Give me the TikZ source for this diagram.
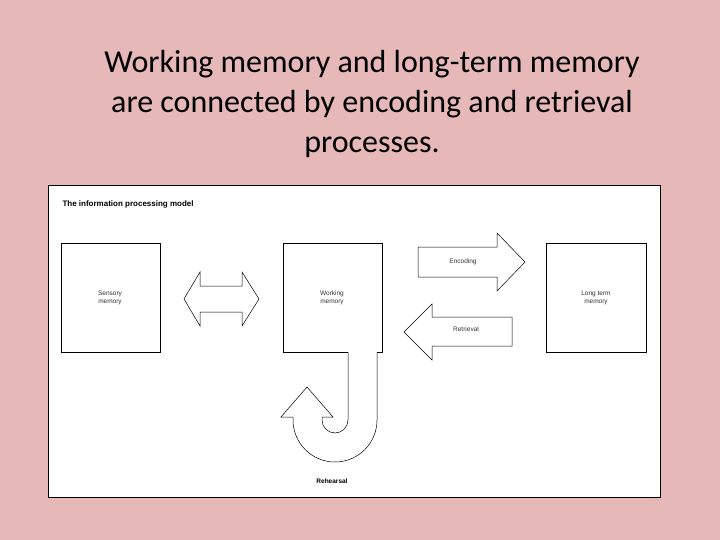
\documentclass[tikz,border=0pt]{standalone}
\usepackage{fontspec}
\setmainfont{Carlito}
\newfontfamily\smallsans{Liberation Sans}
\definecolor{bgpink}{RGB}{230,184,183}
\begin{document}
\begin{tikzpicture}[x=1pt,y=-1pt,
  box/.style={draw,line width=0.6pt,fill=white},
  lbl/.style={font=\smallsans\fontsize{6.5}{7.5}\selectfont,align=center,text=black!80},
  arr/.style={draw,line width=0.5pt,fill=white,line join=miter}]
\fill[bgpink] (0,0) rectangle (720,540);
\useasboundingbox (0,0) rectangle (720,540);
\node[font=\fontsize{32}{40}\selectfont,align=center] (title) at (372,104)
 {Working memory and long-term memory\\are connected by encoding and retrieval\\processes.};
\draw[fill=white,line width=1pt] (48,186) rectangle (660,497);
\node[anchor=west,font=\smallsans\bfseries\fontsize{8}{10}\selectfont] (head) at (59,204) {The information processing model};
\draw[box] (61,243) rectangle (160,352);
\node[lbl] (sens) at (110,298) {Sensory\\memory};
\draw[box] (283,243) rectangle (382,352);
\node[lbl] (work) at (332,298) {Working\\memory};
\draw[box] (546,243) rectangle (646,352);
\node[lbl] (long) at (596,298) {Long term\\memory};
% double arrow
\draw[arr] (184,299) -- (200,272) -- (200,286) -- (242,286) -- (242,272) -- (259,299) -- (242,326) -- (242,312) -- (200,312) -- (200,326) -- cycle;
% encoding
\draw[arr] (418,247) -- (497,247) -- (497,233) -- (525,262) -- (497,291) -- (497,277) -- (418,277) -- cycle;
\node[lbl] (enc) at (463,262) {Encoding};
% retrieval
\draw[arr] (404,332) -- (432,304) -- (432,317) -- (512,317) -- (512,346) -- (432,346) -- (432,360) -- cycle;
\node[lbl] (ret) at (466,329) {Retrieval};
% J arrow
\draw[arr] (348,352) -- (348,420) arc[start angle=0,end angle=180,radius=13]
  -- (322,417) -- (333,417) -- (307,387) -- (281,417) -- (293,417)
  -- (293,420) arc[start angle=180,end angle=0,radius=42] -- (377,352);
\node[font=\smallsans\bfseries\fontsize{6.5}{8}\selectfont] (reh) at (332,481) {Rehearsal};
\end{tikzpicture}
\end{document}
